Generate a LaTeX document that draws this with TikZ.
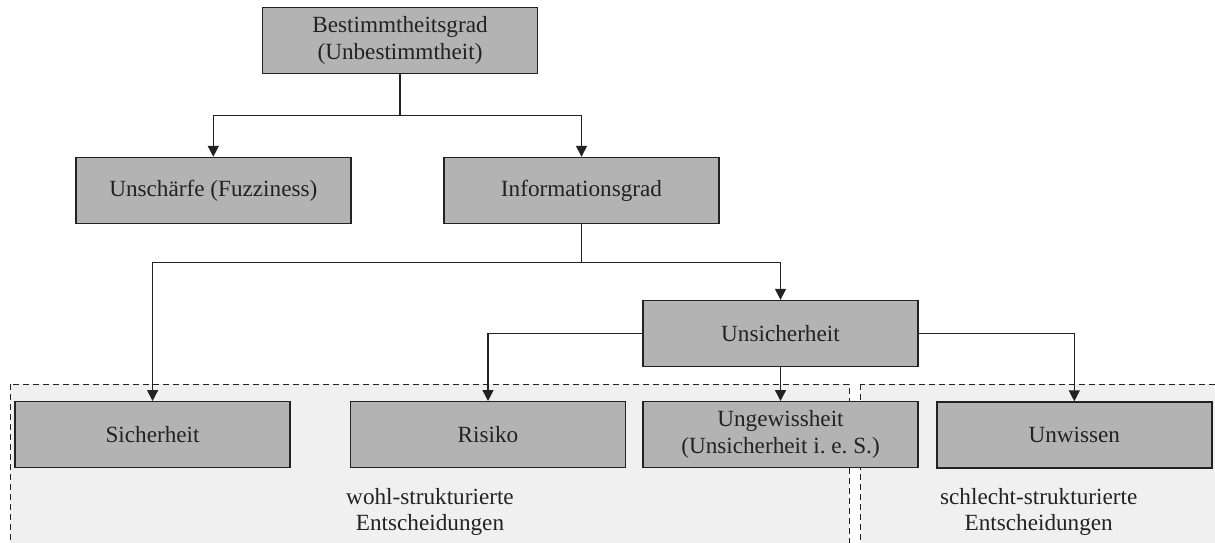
\documentclass[tikz,border=0pt]{standalone}
\usepackage{fontspec}
\setmainfont{Liberation Serif}
\usetikzlibrary{arrows.meta}
\definecolor{boxfill}{HTML}{B3B3B3}
\definecolor{zonefill}{HTML}{F0F0F0}
\definecolor{ink}{HTML}{222222}
\begin{document}
\begin{tikzpicture}[x=1pt,y=-1pt,
  every node/.style={font=\fontsize{23.2}{26.8}\selectfont, text=ink},
  box/.style={draw=ink, fill=boxfill, line width=1.4pt, minimum width=275pt,
    minimum height=66pt, inner sep=0pt, align=center},
  zone/.style={draw=ink, fill=zonefill, line width=1pt, dash pattern=on 6pt off 4pt},
  link/.style={draw=ink, line width=1.4pt},
  arr/.style={link, -{Triangle[length=11pt,width=11pt]}},
  zonelabel/.style={align=center}
]
\useasboundingbox (0,0) rectangle (1215,542);
\clip (0,0) rectangle (1215,542);
\fill[white] (0,0) rectangle (1215,542);

% decision zones
\draw[zone] (10.7,384.3) rectangle (849.3,560);
\draw[zone] (860.5,384.3) rectangle (1217,560);
\node[zonelabel] (wohl) at (430,512) {wohl-strukturierte\\Entscheidungen};
\node[zonelabel] (schlecht) at (1038.7,512) {schlecht-strukturierte\\Entscheidungen};

% boxes
\node[box] (best)  at (400,40.3)    {Bestimmtheitsgrad\\(Unbestimmtheit)};
\node[box] (unsch) at (213.3,190.5) {Unsch\"arfe (Fuzziness)};
\node[box] (info)  at (581.5,190.5) {Informationsgrad};
\node[box] (unsi)  at (780.5,333.5) {Unsicherheit};
\node[box] (sich)  at (152.6,434.7) {Sicherheit};
\node[box] (risk)  at (488,434.7)   {Risiko};
\node[box] (ungew) at (780.5,434.7) {Ungewissheit\\(Unsicherheit i.\ e.\ S.)};
\node[box] (unwis) at (1074.3,435)  {Unwissen};

% junctions
\coordinate (j1) at (400,115.7);
\coordinate (j2) at (581.5,262.5);

% connectors
\draw[link] (best.south) -- (j1);
\draw[arr] (j1) -| (unsch.north);
\draw[arr] (j1) -| (info.north);
\draw[link] (info.south) -- (j2);
\draw[arr] (j2) -| (sich.north);
\draw[arr] (j2) -| (unsi.north);
\draw[arr] (unsi.west) -| (risk.north);
\draw[arr] (unsi.south) -- (ungew.north);
\draw[arr] (unsi.east) -| (unwis.north);
\end{tikzpicture}
\end{document}
